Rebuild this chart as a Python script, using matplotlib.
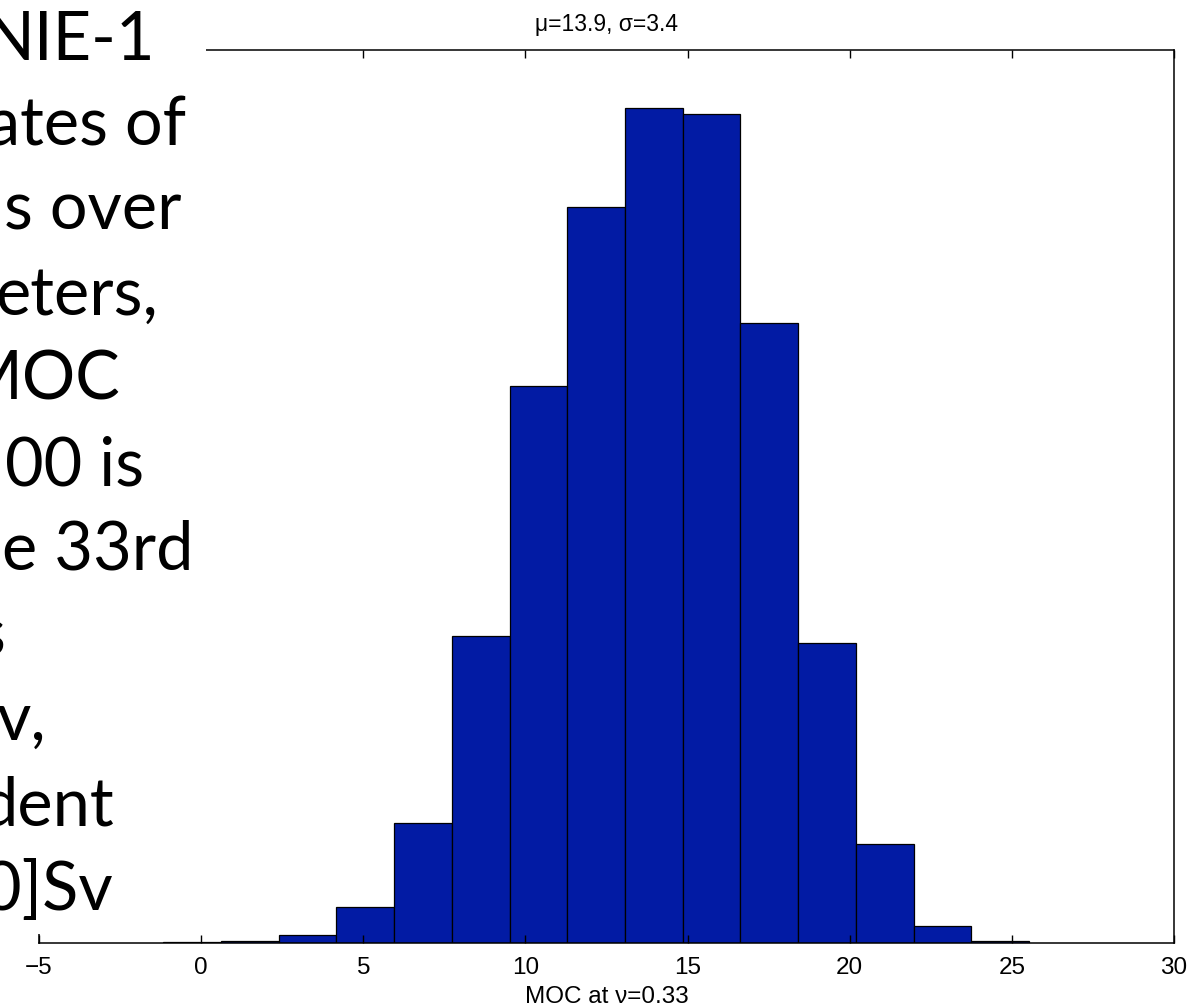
import numpy as np
import matplotlib.pyplot as plt
from matplotlib.patches import Rectangle

# histogram of MOC strength at nu=0.33 (15 bins)
bin_edges = [-1.17, 0.61, 2.39, 4.17, 5.95, 7.73, 9.51, 11.29, 13.07,
             14.85, 16.63, 18.41, 20.19, 21.97, 23.75, 25.53]
counts = [1, 2, 9, 40, 134, 344, 624, 824, 935, 928, 694, 336, 111, 19, 2]
xticks = [-5, 0, 5, 10, 15, 20, 25, 30]

title_txt = "\u03bc=13.9, \u03c3=3.4"
xlabel_txt = "MOC at \u03bd=0.33"

# slide text on the left (only the right-hand part is on screen)
slide_lines = ["NIE-1", "ates of", "s over", "eters,", "MOC", "00 is",
               "e 33rd", "s", "v,", "dent", "0]Sv"]
line_right_px = [156, 186, 181, 158, 121, 144, 193, 6, 46, 114, 113]

W, H = 1194, 1007
fig = plt.figure(figsize=(W / 100, H / 100), dpi=100)
ax = fig.add_axes([39 / W, 1 - 943 / H, (1174 - 39) / W, (943 - 50) / H])

edges = np.array(bin_edges)
ax.bar(edges[:-1], counts, width=np.diff(edges), align="edge",
       color="#021ba4", edgecolor="black", linewidth=0.9)

ax.set_xlim(-5, 30)
ax.set_ylim(0, 1000)
ax.set_xticks(xticks)
ax.set_xticklabels([str(t).replace("-", "\u2212") for t in xticks])
ax.set_yticks([])
ax.tick_params(axis="x", direction="in", length=6, width=1.0, top=True,
               labelsize=17.5, pad=10)
for lab in ax.get_xticklabels():
    lab.set_fontfamily("Liberation Sans")
for s in ax.spines.values():
    s.set_linewidth(1.1)

ax.set_title(title_txt, fontsize=16.5, family="Liberation Sans", pad=14)
ax.set_xlabel(xlabel_txt, fontsize=17.5, family="Liberation Sans", labelpad=5)

# white text box of the slide sits over the left of the axes
fig.patches.append(Rectangle((0, 1 - 934 / H), 206 / W, 934 / H,
                             transform=fig.transFigure, facecolor="white",
                             edgecolor="none", zorder=5))

for i, (txt, xr) in enumerate(zip(slide_lines, line_right_px)):
    base = 60 + 85 * i
    fig.text(xr / W, 1 - base / H, txt, ha="right", va="baseline",
             fontsize=48, family="Lato", color="black", zorder=6)

fig.savefig("out.png", dpi=100)
